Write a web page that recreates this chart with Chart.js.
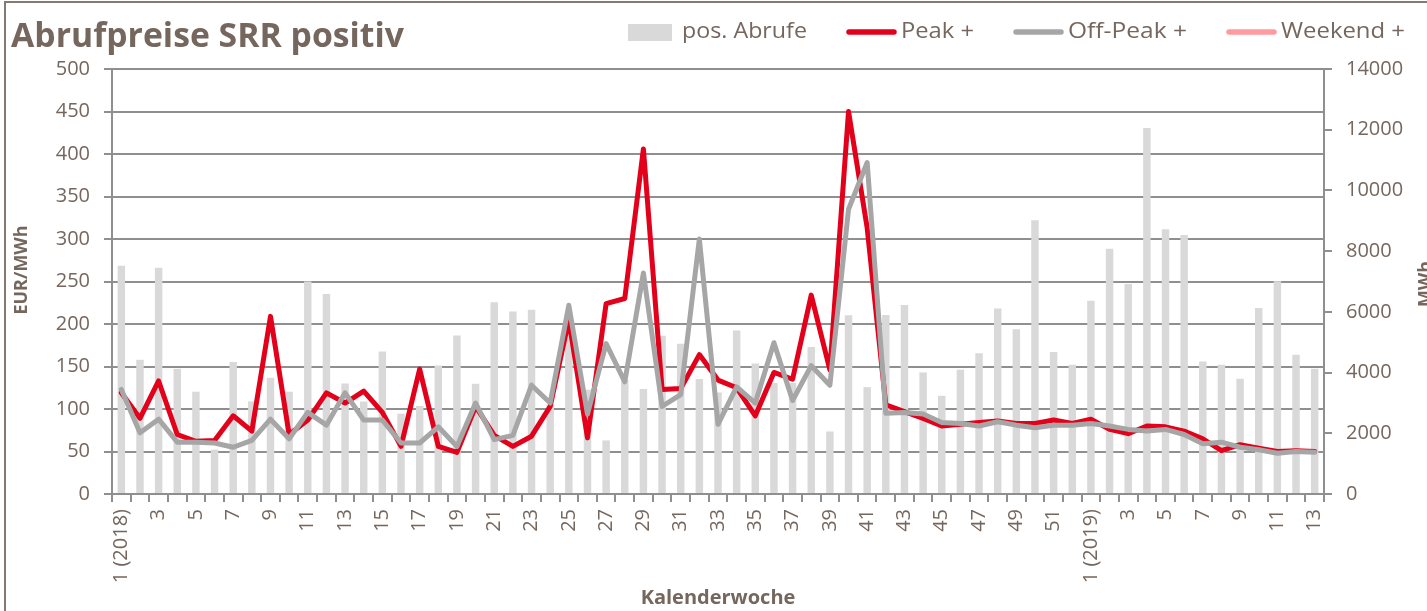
<!DOCTYPE html>
<html><head><meta charset="utf-8">
<script src="https://cdn.jsdelivr.net/npm/chart.js@4.4.1/dist/chart.umd.min.js"></script>
<style>html,body{margin:0;padding:0;background:#fff;}#wrap{position:relative;width:1427px;height:611px;}canvas{display:block}</style>
</head><body><div id="wrap"><canvas id="c" width="1427" height="611"></canvas></div>
<script>
const categories = ["1 (2018)","2","3","4","5","6","7","8","9","10","11","12","13","14","15","16","17","18","19","20","21","22","23","24","25","26","27","28","29","30","31","32","33","34","35","36","37","38","39","40","41","42","43","44","45","46","47","48","49","50","51","52","1 (2019)","2","3","4","5","6","7","8","9","10","11","12","13"];
const peakPlus = [119,89,133,70,62,63,92,74,209,70,87,119,107,121,96,56,147,56,49,103,69,56,68,103,205,66,224,230,406,123,124,164,134,125,92,143,135,234,146,450,313,105,97,89,80,82,84,86,83,83,87,83,88,76,71,80,79,74,65,51,58,54,50,51,50];
const offPeakPlus = [123,72,88,61,61,60,55,63,88,65,96,81,119,87,87,60,60,79,56,107,64,69,128,107,222,94,177,132,260,103,117,300,82,126,107,178,110,151,128,335,390,95,96,94,84,83,80,85,81,78,81,81,83,80,76,74,76,70,59,61,55,52,48,50,49];
const weekendPlus = [];
const posAbrufe = [7515,4420,7450,4125,3370,1460,4345,3050,3830,3370,7000,6590,3640,3050,4695,2645,2900,4230,5220,3630,6320,6010,6070,2950,5300,3435,1765,3760,3455,5210,4950,3785,3345,5385,4300,3655,3655,4840,2060,5890,3520,5900,6230,4005,3235,4090,4640,6110,5430,9020,4675,4255,6365,8075,6920,12055,8720,8535,4365,4255,3795,6130,7010,4585,4125];
const priceRange = [0, 500, 50];
const mwhRange = [0, 14000, 2000];

const TXT = '#75675d';
const GRID = '#8f8f8f';
const FONT = "'Open Sans', sans-serif";

function fitText(ctx, text, x, y, w) {
  const m = ctx.measureText(text).width;
  ctx.save();
  ctx.translate(x, y);
  ctx.scale(w / m, 1);
  ctx.fillText(text, 0, 0);
  ctx.restore();
}

const overlay = {
  id: 'overlay',
  afterDraw(chart) {
    const ctx = chart.ctx;
    const ca = chart.chartArea;
    ctx.save();
    ctx.strokeStyle = '#857a71';
    ctx.lineWidth = 2;
    ctx.strokeRect(5, 2, 1450, 700);
    ctx.fillStyle = TXT;
    ctx.font = "bold 34px " + FONT;
    ctx.textBaseline = 'alphabetic';
    ctx.textAlign = 'left';
    fitText(ctx, 'Abrufpreise SRR positiv', 11, 47, 393);
    ctx.font = "22px " + FONT;
    ctx.textBaseline = 'middle';
    ctx.fillStyle = '#d9d9d9';
    ctx.fillRect(628, 24, 44, 17);
    ctx.fillStyle = TXT;
    fitText(ctx, 'pos. Abrufe', 682, 32, 125);
    const items = [[846, '#e2001a', 'Peak +', 73], [1013, '#a6a6a6', 'Off-Peak +', 119], [1226, '#ff9a9e', 'Weekend +', 124]];
    items.forEach(([x, col, lab, w]) => {
      ctx.strokeStyle = col; ctx.lineWidth = 5.5; ctx.lineCap = 'round';
      ctx.beginPath(); ctx.moveTo(x + 3, 32); ctx.lineTo(x + 48, 32); ctx.stroke();
      ctx.fillStyle = TXT;
      fitText(ctx, lab, x + 55, 32, w);
    });
    ctx.font = "bold 20px " + FONT;
    ctx.textAlign = 'center';
    ctx.textBaseline = 'alphabetic';
    ctx.fillText('Kalenderwoche', (ca.left + ca.right) / 2, 604);
    ctx.font = "bold 18px " + FONT;
    ctx.save();
    ctx.translate(27, 270); ctx.rotate(-Math.PI / 2);
    ctx.fillText('EUR/MWh', 0, 0);
    ctx.restore();
    ctx.save();
    ctx.translate(1431, 284); ctx.rotate(-Math.PI / 2);
    ctx.fillText('MWh', 0, 0);
    ctx.restore();
    ctx.restore();
  }
};

new Chart(document.getElementById('c'), {
  data: {
    labels: categories,
    datasets: [
      { type: 'line', label: 'Weekend +', data: weekendPlus, borderColor: '#ff9a9e', borderWidth: 4, pointRadius: 0, yAxisID: 'y', order: 0 },
      { type: 'line', label: 'Off-Peak +', data: offPeakPlus, borderColor: '#a6a6a6', borderWidth: 5, pointRadius: 0, tension: 0, borderJoinStyle: 'round', borderCapStyle: 'round', yAxisID: 'y', order: 1 },
      { type: 'line', label: 'Peak +', data: peakPlus, borderColor: '#e2001a', borderWidth: 5, pointRadius: 0, tension: 0, borderJoinStyle: 'round', borderCapStyle: 'round', yAxisID: 'y', order: 2 },
      { type: 'bar', label: 'pos. Abrufe', data: posAbrufe, backgroundColor: '#d9d9d9', barPercentage: 0.4, categoryPercentage: 1, yAxisID: 'y2', order: 3 }
    ]
  },
  options: {
    responsive: false,
    animation: false,
    events: [],
    layout: { padding: { top: 69, left: 0, right: 0, bottom: 0 } },
    plugins: { legend: { display: false }, title: { display: false }, tooltip: { enabled: false } },
    scales: {
      x: {
        type: 'category',
        offset: true,
        grid: { offset: true, drawOnChartArea: false, drawTicks: true, tickLength: 8, color: GRID, lineWidth: 2 },
        border: { color: GRID, width: 2 },
        ticks: {
          autoSkip: false, minRotation: 90, maxRotation: 90, padding: 7,
          color: TXT, font: { family: FONT, size: 20 },
          callback: (v, i) => (i % 2 === 0 ? categories[i] : '')
        },
        afterFit: s => { s.height = 611 - 494; }
      },
      y: {
        position: 'left',
        min: priceRange[0], max: priceRange[1],
        ticks: { stepSize: priceRange[2], color: TXT, font: { family: FONT, size: 20 }, padding: 14, callback: v => String(v) },
        grid: { color: GRID, lineWidth: 2, tickLength: 8 },
        border: { color: GRID, width: 2 },
        afterFit: s => { s.width = 112; }
      },
      y2: {
        position: 'right',
        min: mwhRange[0], max: mwhRange[1],
        ticks: { stepSize: mwhRange[2], color: TXT, font: { family: FONT, size: 20 }, padding: 14, callback: v => String(v) },
        grid: { drawOnChartArea: false, color: GRID, lineWidth: 2, tickLength: 8 },
        border: { color: GRID, width: 2 },
        afterFit: s => { s.width = 1427 - 1324; }
      }
    }
  },
  plugins: [overlay]
});
</script>
</body></html>
